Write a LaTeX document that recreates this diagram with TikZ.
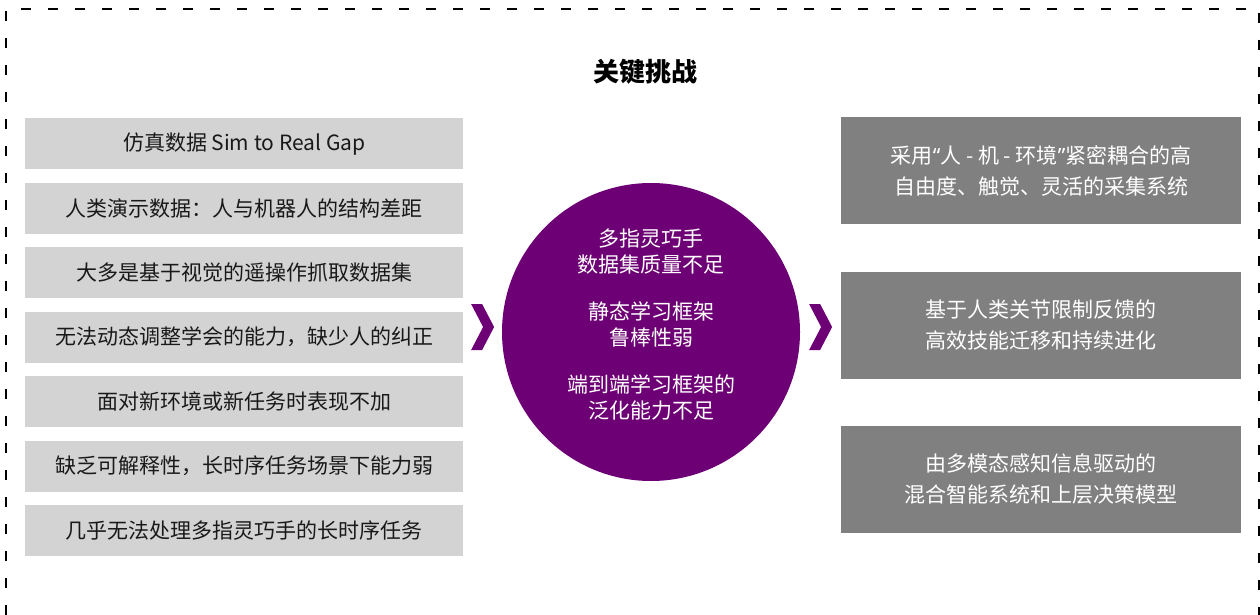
\documentclass[tikz,border=0pt]{standalone}
\usepackage{fontspec}
\setmainfont{Noto Sans CJK SC}
\newfontfamily\quotefont{Noto Sans}
\usetikzlibrary{matrix,positioning,calc}
\definecolor{lightbox}{RGB}{211,211,211}
\definecolor{darkbox}{RGB}{128,128,128}
\definecolor{chalpurple}{RGB}{110,0,117}

\begin{document}
\begin{tikzpicture}[x=1pt,y=-1pt,
    every node/.style={font=\fontsize{21}{31}\selectfont},
    lbox/.style={fill=lightbox,text=black!90,minimum width=438pt,minimum height=51pt,inner sep=0pt},
    rbox/.style={fill=darkbox,text=white,minimum width=400pt,minimum height=107pt,align=center,inner sep=0pt},
    ctext/.style={text=white,align=center,font=\fontsize{21}{26}\selectfont},
    chev/.pic={\fill[chalpurple] (-11.5,-23) -- (-0.5,-23) -- (11.5,0) -- (-0.5,23) -- (-11.5,23) -- (0.5,0) -- cycle;}]
    \useasboundingbox (0,0) rectangle (1260,615);
    \draw[line width=2pt,dash pattern=on 10pt off 17pt] (6,615) -- (6,9) -- (1259,9) -- (1259,615);
    \node[font=\fontsize{26}{30}\selectfont\bfseries] (title) at (645,72) {关键挑战};
    % challenges
    \matrix[matrix of nodes,nodes={lbox},row sep=13.5pt,inner sep=0pt,anchor=north west] (m) at (25,118)
    {
            仿真数据 Sim to Real Gap \\
            人类演示数据：人与机器人的结构差距 \\
            大多是基于视觉的遥操作抓取数据集 \\
            无法动态调整学会的能力，缺少人的纠正 \\
            面对新环境或新任务时表现不加 \\
            缺乏可解释性，长时序任务场景下能力弱 \\
            几乎无法处理多指灵巧手的长时序任务 \\
    };
    \node[circle,fill=chalpurple,minimum size=298pt,inner sep=0pt] (c) at (651,332) {};
    \node[ctext] (ct) at ([yshift=7pt]c.center)
      {多指灵巧手\\数据集质量不足\\[21pt]静态学习框架\\鲁棒性弱\\[21pt]端到端学习框架的\\泛化能力不足};
    % solutions
    \node[rbox,anchor=north west] (r1) at (841,117) {采用{\quotefont“}人 - 机 - 环境{\quotefont”}紧密耦合的高\\自由度、触觉、灵活的采集系统};
    \node[rbox,below=47pt of r1] (r2) {基于人类关节限制反馈的\\高效技能迁移和持续进化};
    \node[rbox,below=47pt of r2] (r3) {由多模态感知信息驱动的\\混合智能系统和上层决策模型};
    \pic at ([yshift=5pt]$(m.east |- c.center)!0.5!(c.west)$) {chev};
    \pic at ([yshift=5pt]$(c.east)!0.5!(r2.west |- c.center)$) {chev};
\end{tikzpicture}
\end{document}
